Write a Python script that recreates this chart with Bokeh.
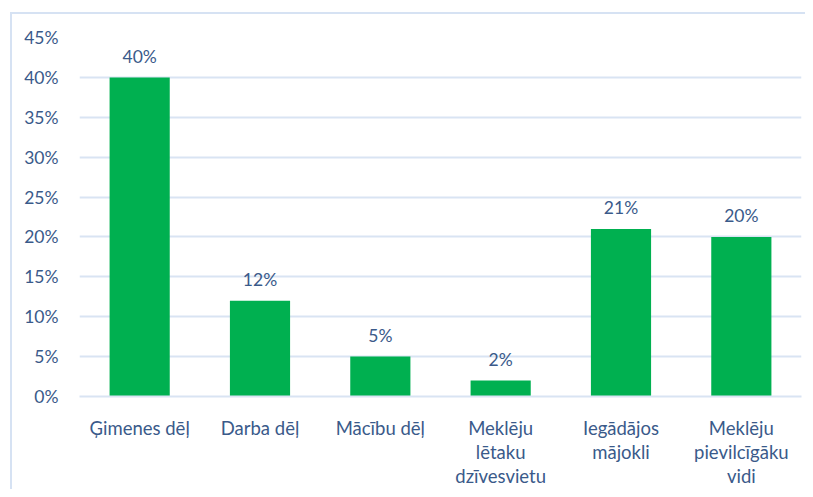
from bokeh.plotting import figure
from bokeh.models import (ColumnDataSource, Range1d, FactorRange, FixedTicker,
                          NumeralTickFormatter, LabelSet)
from bokeh.core.properties import value
from bokeh.embed import file_html
from bokeh.resources import INLINE

categories = ["Ģimenes dēļ", "Darba dēļ", "Mācību dēļ",
              "Meklēju\nlētaku\ndzīvesvietu", "Iegādājos\nmājokli",
              "Meklēju\npievilcīgāku\nvidi"]
values = [0.40, 0.12, 0.05, 0.02, 0.21, 0.20]
value_labels = ["40%", "12%", "5%", "2%", "21%", "20%"]
y_ticks = [0.0, 0.05, 0.10, 0.15, 0.20, 0.25, 0.30, 0.35, 0.40, 0.45]

TEXT = "#3A5A8A"
GRID = "#D9E4F3"
BAR = "#00B050"
FONT = "Lato"
FRAME = "#D6E2F3"

src = ColumnDataSource(dict(cat=categories, val=values, lab=value_labels))

p = figure(width=805, height=489, x_range=FactorRange(*categories, range_padding=0),
           y_range=Range1d(0, 0.45), output_backend="svg", toolbar_location=None,
           min_border_left=79, min_border_right=4, min_border_top=37,
           min_border_bottom=89)
p.styles = {
    "background-color": "white",
    "background-image": f"linear-gradient({FRAME},{FRAME}), linear-gradient({FRAME},{FRAME})",
    "background-position": "10px 12px, 10px 12px",
    "background-size": "2px 100%, 100% 2px",
    "background-repeat": "no-repeat, no-repeat",
}
p.outline_line_color = None
p.background_fill_color = "white"
p.border_fill_color = None

p.vbar(x="cat", top="val", width=0.5, source=src, color=BAR, line_color=None)

labels = LabelSet(x="cat", y="val", text="lab", source=src, text_align="center",
                  text_baseline="middle", y_offset=21, text_color=TEXT,
                  text_font=value(FONT), text_font_size="17.5px")
p.add_layout(labels)

p.yaxis.ticker = FixedTicker(ticks=y_ticks)
p.yaxis.formatter = NumeralTickFormatter(format="0%")
p.yaxis.axis_line_color = None
p.yaxis.major_tick_line_color = None
p.yaxis.minor_tick_line_color = None
p.yaxis.major_label_text_color = TEXT
p.yaxis.major_label_text_font = FONT
p.yaxis.major_label_text_font_size = "17.5px"
p.yaxis.major_label_standoff = 15

p.xaxis.axis_line_color = GRID
p.xaxis.axis_line_width = 2
p.xaxis.major_tick_line_color = None
p.xaxis.minor_tick_line_color = None
p.xaxis.major_label_text_color = TEXT
p.xaxis.major_label_text_font = FONT
p.xaxis.major_label_text_font_size = "18.5px"
p.xaxis.major_label_standoff = 14
p.xaxis.major_label_text_line_height = 1.1

p.xgrid.grid_line_color = None
p.ygrid.grid_line_color = GRID
p.ygrid.grid_line_width = 2

open("out.html", "w").write(file_html(p, INLINE))
